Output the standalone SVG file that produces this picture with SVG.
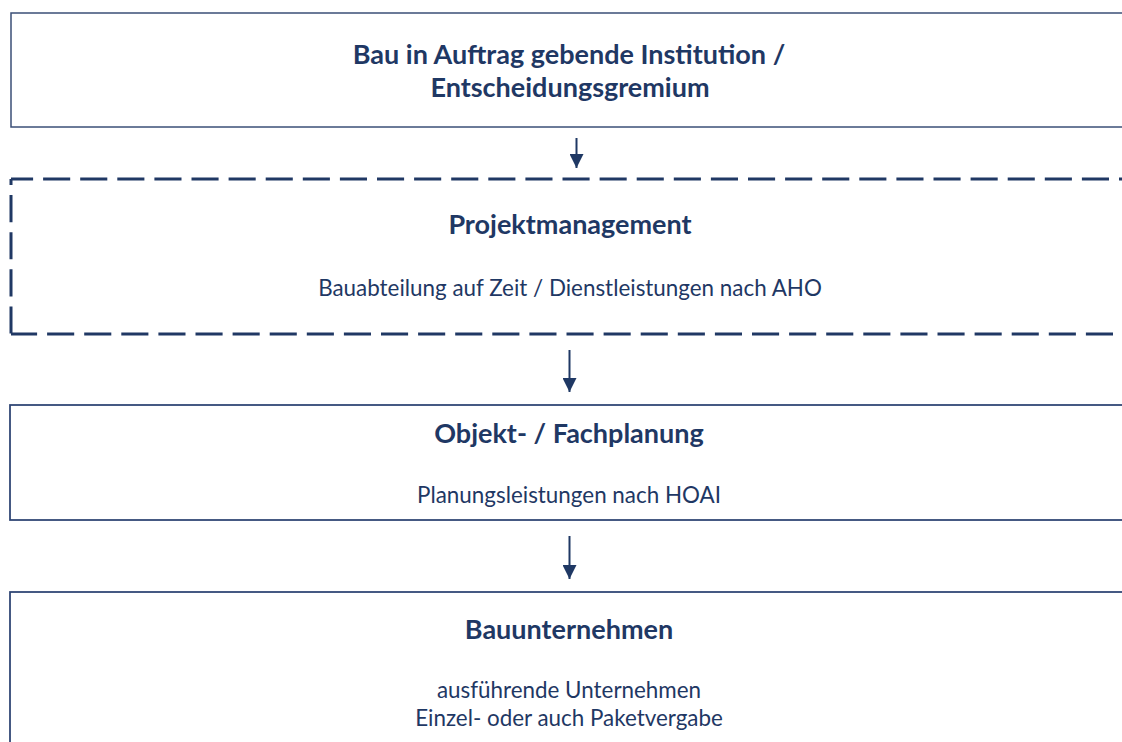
<svg xmlns="http://www.w3.org/2000/svg" width="1122" height="742" viewBox="0 0 1122 742">
<style>
.box{fill:#ffffff;stroke:#2c4372;stroke-width:1.75}
.dash{fill:none;stroke:#203864;stroke-width:3;stroke-dasharray:27.1 10}
.t{font-family:Lato,"Open Sans","Liberation Sans",sans-serif;fill:#1f3864;text-anchor:middle}
.b{font-weight:bold;font-size:27px}
.r{font-size:22.4px}
.conn{stroke:#1f3864;stroke-width:2;fill:none;marker-end:url(#ah)}
</style>
<defs>
<marker id="ah" markerUnits="userSpaceOnUse" markerWidth="14" markerHeight="14" refX="14" refY="7" orient="auto" viewBox="0 0 14 14">
<path d="M0,0 L14,7 L0,14 Z" fill="#1f3864"/>
</marker>
</defs>
<rect width="1122" height="742" fill="#ffffff"/>
<g id="n1">
<rect class="box" x="11" y="13" width="1140" height="114" style="stroke:#3b4f77;stroke-width:1.5"/>
<text class="t b" x="569" y="64">Bau in Auftrag gebende Institution /</text>
<text class="t b" x="570" y="97">Entscheidungsgremium</text>
</g>
<g id="n2">
<line class="dash" x1="11" y1="179" x2="1140" y2="179" stroke-dashoffset="5"/>
<line class="dash" x1="11" y1="179" x2="11" y2="334" stroke-dashoffset="21"/>
<line class="dash" x1="11" y1="334" x2="1140" y2="334" stroke-dashoffset="1"/>
<text class="t b" x="570" y="234">Projektmanagement</text>
<text class="t r" x="570" y="296">Bauabteilung auf Zeit / Dienstleistungen nach AHO</text>
</g>
<g id="n3">
<rect class="box" x="10" y="405" width="1140" height="115"/>
<text class="t b" x="569" y="443">Objekt- / Fachplanung</text>
<text class="t r" x="569" y="503">Planungsleistungen nach HOAI</text>
</g>
<g id="n4">
<rect class="box" x="10" y="592" width="1140" height="170"/>
<text class="t b" x="569" y="639">Bauunternehmen</text>
<text class="t r" x="569" y="698">ausführende Unternehmen</text>
<text class="t r" x="569" y="726">Einzel- oder auch Paketvergabe</text>
</g>
<g id="connectors">
<line class="conn" x1="576.5" y1="138" x2="576.5" y2="168"/>
<line class="conn" x1="569.5" y1="350" x2="569.5" y2="392"/>
<line class="conn" x1="569.5" y1="536" x2="569.5" y2="579"/>
</g>
</svg>
